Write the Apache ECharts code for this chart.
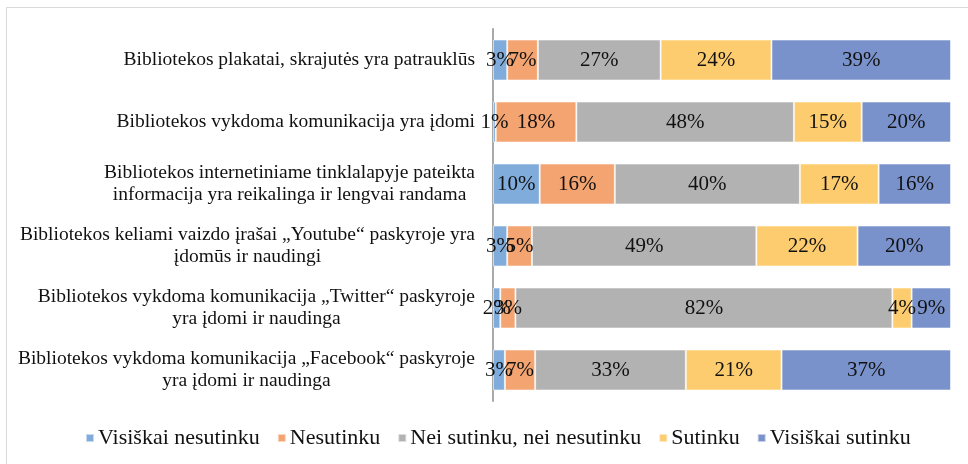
<!DOCTYPE html>
<html lang="lt">
<head>
<meta charset="utf-8">
<title>Bibliotekos komunikacija</title>
<script src="https://cdn.jsdelivr.net/npm/echarts@6/dist/echarts.min.js"></script>
<style>
  html, body { margin: 0; padding: 0; background: #fff; }
  #container { width: 968px; height: 464px; }
</style>
</head>
<body>
<div id="container"></div>
<script>
// teiginiai (iš viršaus į apačią)
var categories = [
  'Bibliotekos plakatai, skrajutės yra patrauklūs',
  'Bibliotekos vykdoma komunikacija yra įdomi',
  'Bibliotekos internetiniame tinklalapyje pateikta\ninformacija yra reikalinga ir lengvai randama',
  'Bibliotekos keliami vaizdo įrašai „Youtube“ paskyroje yra\nįdomūs ir naudingi',
  'Bibliotekos vykdoma komunikacija „Twitter“ paskyroje\nyra įdomi ir naudinga',
  'Bibliotekos vykdoma komunikacija „Facebook“ paskyroje\nyra įdomi ir naudinga'
];
var seriesNames = ['Visiškai nesutinku', 'Nesutinku', 'Nei sutinku, nei nesutinku', 'Sutinku', 'Visiškai sutinku'];
// procentai
var visiskaiNesutinku = [3.1, 0.6, 10.2, 3.1, 1.6, 2.6];
var nesutinku         = [6.7, 17.6, 16.4, 5.4, 3.3, 6.6];
var neiNei            = [26.8, 47.5, 40.4, 49.0, 82.3, 32.9];
var sutinku           = [24.2, 14.8, 17.2, 22.1, 4.2, 20.9];
var visiskaiSutinku   = [39.2, 19.5, 15.8, 20.4, 8.6, 37.0];
var colors = ['#80acdc', '#f4a471', '#b2b2b2', '#fdcc6f', '#7a92cb'];

var font = '"Liberation Serif", "Times New Roman", serif';
var allData = [visiskaiNesutinku, nesutinku, neiNei, sutinku, visiskaiSutinku];

var series = [];
for (var i = 0; i < seriesNames.length; i++) {
  series.push({
    name: seriesNames[i],
    type: 'bar',
    stack: 'total',
    barWidth: 41,
    data: allData[i],
    itemStyle: { color: colors[i], borderColor: 'rgba(255,255,255,0.55)', borderWidth: 1 },
    label: {
      show: true,
      position: 'inside',
      color: '#111',
      fontFamily: font,
      fontSize: 21,
      formatter: function (p) { return Math.round(p.value) + '%'; }
    },
    emphasis: { disabled: true }
  });
}

var myChart = echarts.init(document.getElementById('container'));
var option = {
  animation: false,
  backgroundColor: '#fff',
  graphic: [{
    type: 'rect',
    shape: { x: 6.5, y: 7.5, width: 1000, height: 1000 },
    style: { fill: 'none', stroke: '#d9d9d9', lineWidth: 1 },
    silent: true
  }],
  grid: { left: 493, right: 17, top: 29, bottom: 63 },
  legend: {
    bottom: 10,
    left: 80,
    icon: 'rect',
    itemWidth: 8,
    itemHeight: 8,
    itemGap: 17,
    data: seriesNames,
    textStyle: { fontFamily: font, fontSize: 22, color: '#111', padding: [0, 0, 0, -1] }
  },
  xAxis: {
    type: 'value',
    min: 0,
    max: 100,
    show: false
  },
  yAxis: {
    type: 'category',
    inverse: true,
    data: categories,
    axisLine: { show: true, lineStyle: { color: '#a9a9a9', width: 2 } },
    axisTick: { show: false },
    axisLabel: {
      margin: 18,
      fontFamily: font,
      fontSize: 19.5,
      color: '#111',
      lineHeight: 22,
      formatter: function (v) {
        return v.split('\n').map(function (s) { return '{c|' + s + '}'; }).join('\n');
      },
      rich: { c: { align: 'center', fontFamily: font, fontSize: 19.5, lineHeight: 22, color: '#111' } }
    }
  },
  series: series
};
myChart.setOption(option);
</script>
</body>
</html>
